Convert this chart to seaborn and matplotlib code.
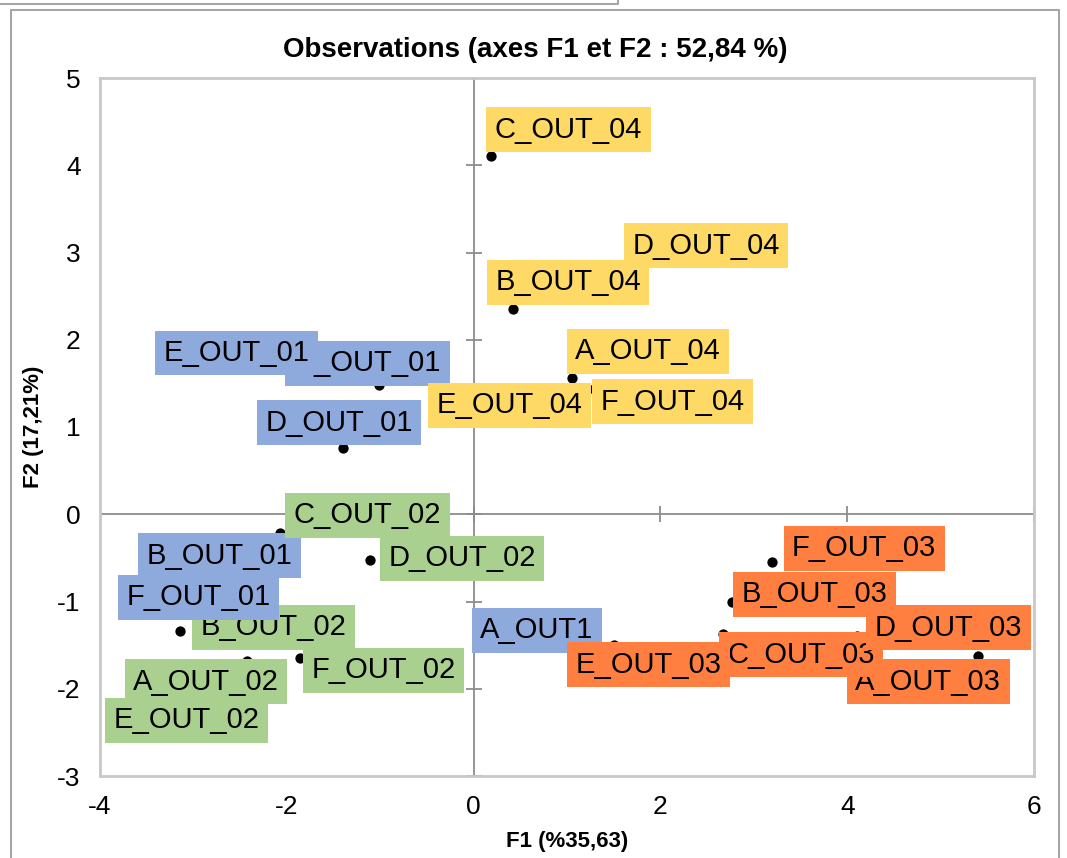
import pandas as pd
import matplotlib.pyplot as plt
import seaborn as sns
from matplotlib.lines import Line2D

sns.set_style("white")
plt.rcParams['font.family'] = ['Liberation Sans', 'DejaVu Sans']
plt.rcParams['axes.unicode_minus'] = False
plt.rcParams['text.color'] = "black"
plt.rcParams['xtick.color'] = "black"
plt.rcParams['ytick.color'] = "black"

# Observations per group (F1, F2 coordinates)
names_01 = ["A_OUT1", "B_OUT_01", "C_OUT_01", "D_OUT_01", "E_OUT_01", "F_OUT_01"]
f1_01 = [1.50, -1.95, -1.01, -1.40, -1.84, -2.30]
f2_01 = [-1.50, -0.50, 1.48, 0.76, 1.63, -0.95]

names_02 = ["A_OUT_02", "B_OUT_02", "C_OUT_02", "D_OUT_02", "E_OUT_02", "F_OUT_02"]
f1_02 = [-2.43, -3.14, -2.07, -1.11, -2.40, -1.86]
f2_02 = [-1.68, -1.34, -0.22, -0.53, -2.20, -1.65]

names_03 = ["A_OUT_03", "B_OUT_03", "C_OUT_03", "D_OUT_03", "E_OUT_03", "F_OUT_03"]
f1_03 = [5.40, 2.77, 2.67, 4.11, 1.90, 3.19]
f2_03 = [-1.62, -1.00, -1.37, -1.39, -1.75, -0.55]

names_04 = ["A_OUT_04", "B_OUT_04", "C_OUT_04", "D_OUT_04", "E_OUT_04", "F_OUT_04"]
f1_04 = [1.05, 0.42, 0.19, 1.77, -0.36, 1.29]
f2_04 = [1.56, 2.35, 4.11, 2.87, 1.19, 1.44]

group_colors = {"01": "#8EA9DB", "02": "#A9D08E", "03": "#FF7F40", "04": "#FFD966"}

xticks = [-4, -2, 0, 2, 4, 6]
yticks = [-3, -2, -1, 0, 1, 2, 3, 4, 5]

# label box placement: left edge and vertical centre, in pixels from the point
label_shift = {
    "A_OUT1": (-142, 15), "B_OUT_01": (-153, 2), "C_OUT_01": (-94, 22),
    "D_OUT_01": (-86, 25), "E_OUT_01": (-147, 19), "F_OUT_01": (-141, 0),
    "A_OUT_02": (-122, -21), "B_OUT_02": (12, 4), "C_OUT_02": (5, 18),
    "D_OUT_02": (10, 2), "E_OUT_02": (-144, -14), "F_OUT_02": (3, -12),
    "A_OUT_03": (-131, -26), "B_OUT_03": (1, 7), "C_OUT_03": (-4, -21),
    "D_OUT_03": (9, 8), "E_OUT_03": (-84, 2), "F_OUT_03": (12, 14),
    "A_OUT_04": (-5, 27), "B_OUT_04": (-26, 27), "C_OUT_04": (-5, 26),
    "D_OUT_04": (-15, 18), "E_OUT_04": (-12, 5), "F_OUT_04": (-2, -13),
}

frames = []
for grp, nm, xs, ys in [("01", names_01, f1_01, f2_01), ("02", names_02, f1_02, f2_02),
                        ("03", names_03, f1_03, f2_03), ("04", names_04, f1_04, f2_04)]:
    frames.append(pd.DataFrame({"name": nm, "F1": xs, "F2": ys, "group": grp}))
df = pd.concat(frames, ignore_index=True)
df["letter"] = df["name"].str[0]
df = df.sort_values(["letter", "group"]).reset_index(drop=True)

W, H = 1067, 858
fig = plt.figure(figsize=(W / 100, H / 100), dpi=100)
ax = fig.add_axes([100 / W, 1 - 776 / H, 934 / W, 698 / H])

# zero axes crossing in the middle, with cross tick marks
ax.axhline(0, color="#8C8C8C", lw=1.3, zorder=1)
ax.axvline(0, color="#8C8C8C", lw=1.3, zorder=1)
ax.plot([0] * len(yticks), yticks, ls="none", marker="_", ms=12, mew=1.3,
        color="#8C8C8C", zorder=1)
ax.plot(xticks, [0] * len(xticks), ls="none", marker="|", ms=12, mew=1.3,
        color="#8C8C8C", zorder=1)

sns.scatterplot(data=df, x="F1", y="F2", color="black", s=55, linewidth=0,
                legend=False, ax=ax, zorder=3)

pad = 0.29
fs = 21
for i, row in df.iterrows():
    dx, dy = label_shift[row["name"]]
    ax.annotate(row["name"], (row["F1"], row["F2"]),
                xytext=(dx + pad * fs * 100 / 72, dy), textcoords="offset pixels",
                ha="left", va="center", fontsize=fs, color="black", zorder=4 + i,
                bbox=dict(boxstyle=f"square,pad={pad}", fc=group_colors[row["group"]],
                          ec="none"))

ax.set_xlim(-4, 6)
ax.set_ylim(-3, 5)
ax.set_xticks(xticks)
ax.set_yticks(yticks)
ax.tick_params(length=0, labelsize=19, pad=14)
for s in ax.spines.values():
    s.set_color("#C8C8C8")
    s.set_linewidth(2)
ax.set_xlabel("")
ax.set_ylabel("")

fig.text(535 / W, 1 - 50 / H, "Observations (axes F1 et F2 : 52,84 %)",
         ha="center", va="center", fontsize=20, fontweight="bold")
fig.text(567 / W, 1 - 841 / H, "F1 (%35,63)", ha="center", va="center",
         fontsize=16, fontweight="bold")
fig.text(33 / W, 1 - 427 / H, "F2 (17,21%)", ha="center", va="center",
         fontsize=16, fontweight="bold", rotation=90)

# chart frame and the edge of the box above it
def px_line(xs, ys):
    fig.add_artist(Line2D([x / W for x in xs], [1 - y / H for y in ys],
                          color="#A6A6A6", lw=1.5, transform=fig.transFigure))

px_line([11, 11, 1059, 1059], [H + 5, 10, 10, H + 5])
px_line([0, 618, 618], [4, 4, -2])

fig.savefig("out.png", dpi=100)
